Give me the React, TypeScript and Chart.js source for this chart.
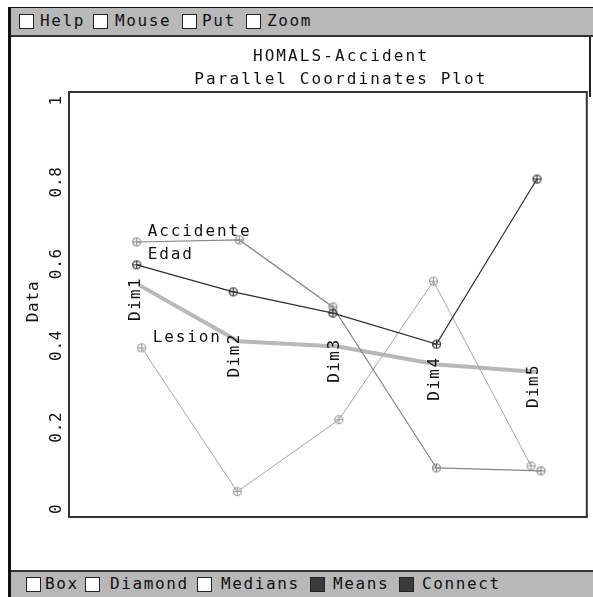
import React, { useEffect, useRef } from "react";
import { Chart, registerables } from "chart.js";
Chart.register(...registerables);

// ---------------- data ----------------
const DIMENSIONS = ["Dim1", "Dim2", "Dim3", "Dim4", "Dim5"];
const SERIES_NAMES = ["Accidente", "Edad", "Lesion"];
const ACCIDENTE_X = [0.98, 2.01, 2.95, 3.99, 5.04];
const ACCIDENTE_Y = [0.653, 0.658, 0.494, 0.1, 0.093];
const EDAD_X = [0.98, 1.95, 2.95, 3.99, 5.0];
const EDAD_Y = [0.597, 0.531, 0.479, 0.403, 0.807];
const LESION_X = [1.03, 1.99, 3.01, 3.96, 4.94];
const LESION_Y = [0.394, 0.042, 0.218, 0.557, 0.105];
const MEANS_X = [1, 2, 3, 4, 5];
const MEANS_Y = [0.548, 0.41, 0.397, 0.353, 0.335];
const Y_TICKS = [0, 0.2, 0.4, 0.6, 0.8, 1];
const Y_TICK_LABELS = ["0", "0.2", "0.4", "0.6", "0.8", "1"];
const TITLE_LINES = ["HOMALS-Accident", "Parallel Coordinates Plot"];
const Y_AXIS_TITLE = "Data";
const MENU_ITEMS = ["Help", "Mouse", "Put", "Zoom"];
const FOOTER_ITEMS = ["Box", "Diamond", "Medians", "Means", "Connect"];
const FOOTER_CHECKED = [false, false, false, true, true];

// ---------------- layout / style ----------------
const FONT = "'DejaVu Sans Mono', monospace";
const MENU_POS = [
  [19, 40],
  [93, 115],
  [182, 202],
  [246, 267],
];
const FOOTER_POS = [
  [26, 45],
  [85, 110],
  [197, 221],
  [310, 333],
  [399, 422],
];
const CANVAS_LEFT = 11;
const CANVAS_TOP = 37;
const CANVAS_W = 582;
const CANVAS_H = 533;

function makeMarker(color: string) {
  const c = document.createElement("canvas");
  c.width = 11;
  c.height = 11;
  const g = c.getContext("2d")!;
  g.strokeStyle = color;
  g.lineWidth = 1.2;
  g.beginPath();
  g.arc(5.5, 5.5, 4, 0, Math.PI * 2);
  g.stroke();
  g.beginPath();
  g.moveTo(5.5, 2);
  g.lineTo(5.5, 9);
  g.moveTo(2, 5.5);
  g.lineTo(9, 5.5);
  g.stroke();
  return c;
}

const pts = (xs: number[], ys: number[]) => xs.map((x, i) => ({ x, y: ys[i] }));

export default function App() {
  const ref = useRef<HTMLCanvasElement>(null);

  useEffect(() => {
    const canvas = ref.current!;
    const decor = {
      id: "decor",
      afterDatasetsDraw(chart: any) {
        const ctx = chart.ctx as CanvasRenderingContext2D;
        const area = chart.chartArea;
        const xs = chart.scales.x;
        const ys = chart.scales.y;
        ctx.save();
        // box
        ctx.strokeStyle = "#333";
        ctx.lineWidth = 2;
        ctx.strokeRect(area.left, area.top, area.right - area.left, area.bottom - area.top);
        ctx.fillStyle = "#111";
        // titles
        (ctx as any).letterSpacing = "2.1px";
        ctx.font = `16px ${FONT}`;
        ctx.textAlign = "center";
        ctx.textBaseline = "middle";
        const cx = (area.left + area.right) / 2 + 13;
        ctx.fillText(TITLE_LINES[0], cx, area.top - 35);
        ctx.fillText(TITLE_LINES[1], cx, area.top - 12);
        // y ticks
        (ctx as any).letterSpacing = "0.8px";
        ctx.font = `16px ${FONT}`;
        Y_TICKS.forEach((v, i) => {
          const py = ys.getPixelForValue(v);
          ctx.save();
          ctx.translate(area.left - 12, py);
          ctx.rotate(-Math.PI / 2);
          ctx.textAlign = "center";
          ctx.textBaseline = "middle";
          ctx.fillText(Y_TICK_LABELS[i], 0, 0);
          ctx.restore();
        });
        // y axis title
        ctx.save();
        ctx.translate(area.left - 35, ys.getPixelForValue(0.5) - 3);
        ctx.rotate(-Math.PI / 2);
        ctx.textAlign = "center";
        ctx.textBaseline = "middle";
        ctx.fillText(Y_AXIS_TITLE, 0, 0);
        ctx.restore();
        // dimension labels
        (ctx as any).letterSpacing = "1.4px";
        ctx.font = `16px ${FONT}`;
        DIMENSIONS.forEach((d, i) => {
          const px = xs.getPixelForValue(MEANS_X[i]) - 3;
          const py = ys.getPixelForValue(MEANS_Y[i]) - 8;
          ctx.save();
          ctx.translate(px, py);
          ctx.rotate(-Math.PI / 2);
          ctx.textAlign = "right";
          ctx.textBaseline = "middle";
          ctx.fillText(d, 0, 0);
          ctx.restore();
        });
        // series labels
        const firsts = [
          [ACCIDENTE_X[0], ACCIDENTE_Y[0]],
          [EDAD_X[0], EDAD_Y[0]],
          [LESION_X[0], LESION_Y[0]],
        ];
        ctx.textAlign = "left";
        ctx.textBaseline = "alphabetic";
        (ctx as any).letterSpacing = "1.9px";
        SERIES_NAMES.forEach((n, i) => {
          const px = xs.getPixelForValue(firsts[i][0]) + 11;
          const py = ys.getPixelForValue(firsts[i][1]) - 6;
          ctx.fillText(n, px, py);
        });
        ctx.restore();
      },
    };

    const chart = new Chart(canvas, {
      type: "scatter",
      data: {
        datasets: [
          {
            label: SERIES_NAMES[0],
            data: pts(ACCIDENTE_X, ACCIDENTE_Y),
            showLine: true,
            borderColor: "#858585",
            borderWidth: 1.2,
            pointStyle: makeMarker("#8a8a8a") as any,
            pointRadius: 5,
            order: 2,
          },
          {
            label: SERIES_NAMES[1],
            data: pts(EDAD_X, EDAD_Y),
            showLine: true,
            borderColor: "#2e2e2e",
            borderWidth: 1.2,
            pointStyle: makeMarker("#333") as any,
            pointRadius: 5,
            order: 1,
          },
          {
            label: SERIES_NAMES[2],
            data: pts(LESION_X, LESION_Y),
            showLine: true,
            borderColor: "#a5a5a5",
            borderWidth: 1,
            pointStyle: makeMarker("#a0a0a0") as any,
            pointRadius: 5,
            order: 3,
          },
          {
            label: "Means",
            data: pts(MEANS_X, MEANS_Y),
            showLine: true,
            borderColor: "#b8b8b8",
            borderWidth: 4,
            pointRadius: 0,
            order: 4,
          },
        ],
      },
      options: {
        animation: false,
        responsive: false,
        events: [],
        layout: { padding: { left: 58, top: 55, right: 4, bottom: 53 } },
        scales: {
          x: { type: "linear", min: 0.3, max: 5.5, display: false },
          y: { type: "linear", min: -0.02, max: 1.02, display: false },
        },
        plugins: { legend: { display: false }, tooltip: { enabled: false }, title: { display: false } },
      },
      plugins: [decor],
    });
    return () => chart.destroy();
  }, []);

  const text: React.CSSProperties = {
    position: "absolute",
    fontFamily: FONT,
    fontSize: 16,
    letterSpacing: "1.6px",
    lineHeight: "20px",
    color: "#111",
    whiteSpace: "pre",
  };
  const box = (left: number, top: number, filled: boolean): React.CSSProperties => ({
    position: "absolute",
    left,
    top,
    width: 13,
    height: 13,
    border: "1px solid #222",
    background: filled ? "#3a3a3a" : "#fff",
  });

  return (
    <div style={{ position: "absolute", left: 0, top: 0, width: 593, height: 597, background: "#fff", overflow: "hidden" }}>
      {/* top frame */}
      <div style={{ position: "absolute", left: 8, top: 7, width: 585, height: 1, background: "#111" }} />
      <div style={{ position: "absolute", left: 11, top: 8, width: 582, height: 27, background: "#b8b8b8" }} />
      <div style={{ position: "absolute", left: 11, top: 35, width: 582, height: 2, background: "#333" }} />
      {MENU_ITEMS.map((m, i) => (
        <React.Fragment key={m}>
          <div style={box(MENU_POS[i][0], 14, false)} />
          <span style={{ ...text, left: MENU_POS[i][1], top: 11 }}>{m}</span>
        </React.Fragment>
      ))}
      {/* side borders */}
      <div style={{ position: "absolute", left: 8, top: 7, width: 3, height: 590, background: "#111" }} />
      <div style={{ position: "absolute", left: 589, top: 37, width: 2, height: 60, background: "#222" }} />
      {/* footer */}
      <div style={{ position: "absolute", left: 11, top: 570, width: 582, height: 2, background: "#333" }} />
      <div style={{ position: "absolute", left: 11, top: 572, width: 582, height: 25, background: "#b8b8b8" }} />
      {FOOTER_ITEMS.map((m, i) => (
        <React.Fragment key={m}>
          <div style={box(FOOTER_POS[i][0], 577, FOOTER_CHECKED[i])} />
          <span style={{ ...text, left: FOOTER_POS[i][1], top: 574 }}>{m}</span>
        </React.Fragment>
      ))}
      <canvas
        ref={ref}
        width={CANVAS_W}
        height={CANVAS_H}
        style={{ position: "absolute", left: CANVAS_LEFT, top: CANVAS_TOP, width: CANVAS_W, height: CANVAS_H }}
      />
    </div>
  );
}
